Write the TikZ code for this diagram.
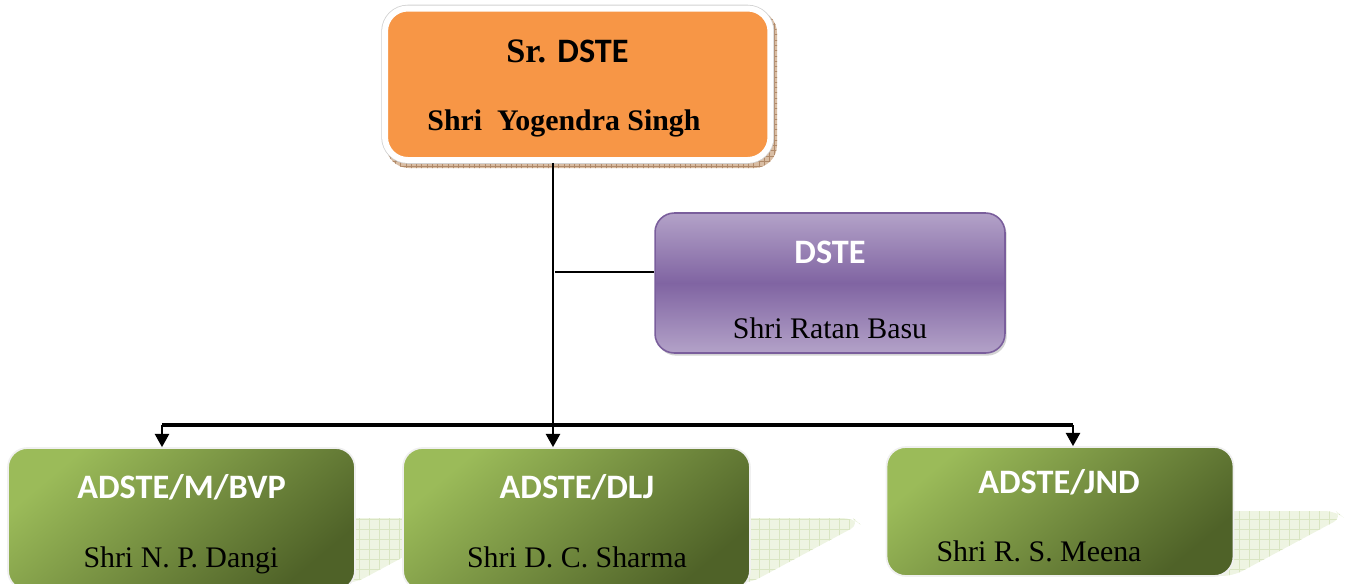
\documentclass[tikz,border=0pt]{standalone}
\usepackage{fontspec}
\setmainfont{Liberation Serif}
\newfontfamily\calibfont{Carlito}
\usepackage{tikz}
\usetikzlibrary{positioning,arrows.meta,patterns,shadows}
\definecolor{orgfill}{HTML}{F79646}
\definecolor{orgshade}{HTML}{D9BDA3}
\definecolor{orggrid}{HTML}{B08A6A}
\definecolor{purpLight}{HTML}{B3A2C8}
\definecolor{purpMid}{HTML}{8064A2}
\definecolor{purpEdge}{HTML}{7A5E9C}
\definecolor{grnLight}{HTML}{9BBB59}
\definecolor{grnDark}{HTML}{4F6228}
\definecolor{grnShade}{HTML}{EEF4E2}
\definecolor{grnGrid}{HTML}{D9E5C2}

\begin{document}
\begin{tikzpicture}[x=0.02cm, y=-0.02cm,
    topbox/.style={rounded corners=13pt, fill=orgfill, draw=white, line width=3.4pt,
        preaction={draw=black!18, line width=4.3pt}, minimum width=7.71cm, minimum height=3.03cm},
    dstebox/.style={rounded corners=11pt, top color=purpLight, bottom color=purpLight, middle color=purpMid,
        draw=purpEdge, line width=0.9pt, drop shadow={shadow xshift=1pt, shadow yshift=-1.5pt, opacity=0.35},
        minimum width=7cm, minimum height=2.8cm},
    adstebox/.style={rounded corners=11pt, top color=grnLight, bottom color=grnDark, shading angle=40,
        draw=black!6, line width=1pt, minimum width=6.94cm},
    head/.style={font=\calibfont\bfseries\fontsize{19.5}{23}\selectfont, text=white, anchor=base, inner sep=0pt},
    who/.style={font=\fontsize{17}{20}\selectfont, anchor=base, inner sep=0pt},
    bus/.style={line width=2.2pt},
    trunk/.style={line width=1.1pt},
    feed/.style={line width=1.2pt, -{Triangle[length=7.5pt, width=8pt]}}]

    \clip (0,0) rectangle (1346,583);

    % hatched shadow under the top box
    \fill[orgshade, rounded corners=13pt, postaction={pattern=grid, pattern color=orggrid}] (386,10) rectangle (777,168);
    \node[topbox] (srdste) at (577.75,84.25) {};
    \node[font=\bfseries\fontsize{19.5}{23}\selectfont, anchor=base, inner sep=0pt] (srdsteT) at (567.5,62)
        {Sr. {\calibfont DSTE}};
    \node[who, font=\bfseries\fontsize{17}{20}\selectfont] (srdsteN) at (564,130) {Shri~ Yogendra Singh};

    % floor shadows of the three ADSTE boxes
    \foreach \r/\t/\b in {355/518/583, 750/518/583, 1233/511/576} {
        \begin{scope}
            \clip[rounded corners=6pt] (\r-60,\t) -- (\r+103,\t) -- (\r+110,\t+6) -- (\r,\b) -- (\r-60,\b) -- cycle;
            \fill[grnShade] (\r-60,\t) rectangle (\r+112,\b);
            \draw[grnGrid, line width=0.5pt, step=0.2cm] (\r-60,\t) grid (\r+112,\b);
        \end{scope}
    }

    \node[dstebox] (dste) at (830,283) {};
    \node[head] (dsteT) at (830,263) {DSTE};
    \node[who] (dsteN) at (830,338) {Shri Ratan Basu};

    \node[adstebox, minimum height=2.84cm] (bvp) at (181.5,519) {};
    \node[head] (bvpT) at (181.5,498) {ADSTE/M/BVP};
    \node[who] (bvpN) at (181,567) {Shri N. P. Dangi};

    \node[adstebox, minimum height=2.84cm] (dlj) at (576.5,519) {};
    \node[head] (dljT) at (577,498) {ADSTE/DLJ};
    \node[who] (dljN) at (577,567) {Shri D. C. Sharma};

    \node[adstebox, minimum height=2.58cm] (jnd) at (1060,511.5) {};
    \node[head] (jndT) at (1059,493) {ADSTE/JND};
    \node[who] (jndN) at (1039,561) {Shri R. S. Meena};

    % connectors
    \coordinate (junction) at (553,425);
    \coordinate (tap) at (555,272);
    \coordinate (busL) at (162,425);
    \coordinate (busR) at (1073,425);
    \draw[trunk] (junction |- srdste.south) -- (junction);
    \draw[trunk] (tap) -- (tap -| dste.west);
    \draw[bus] (busL) -- (busR);
    \draw[feed] (busL) -- (busL |- bvp.north);
    \draw[feed] (junction) -- (junction |- dlj.north);
    \draw[feed] (busR) -- (busR |- jnd.north);
\end{tikzpicture}
\end{document}
